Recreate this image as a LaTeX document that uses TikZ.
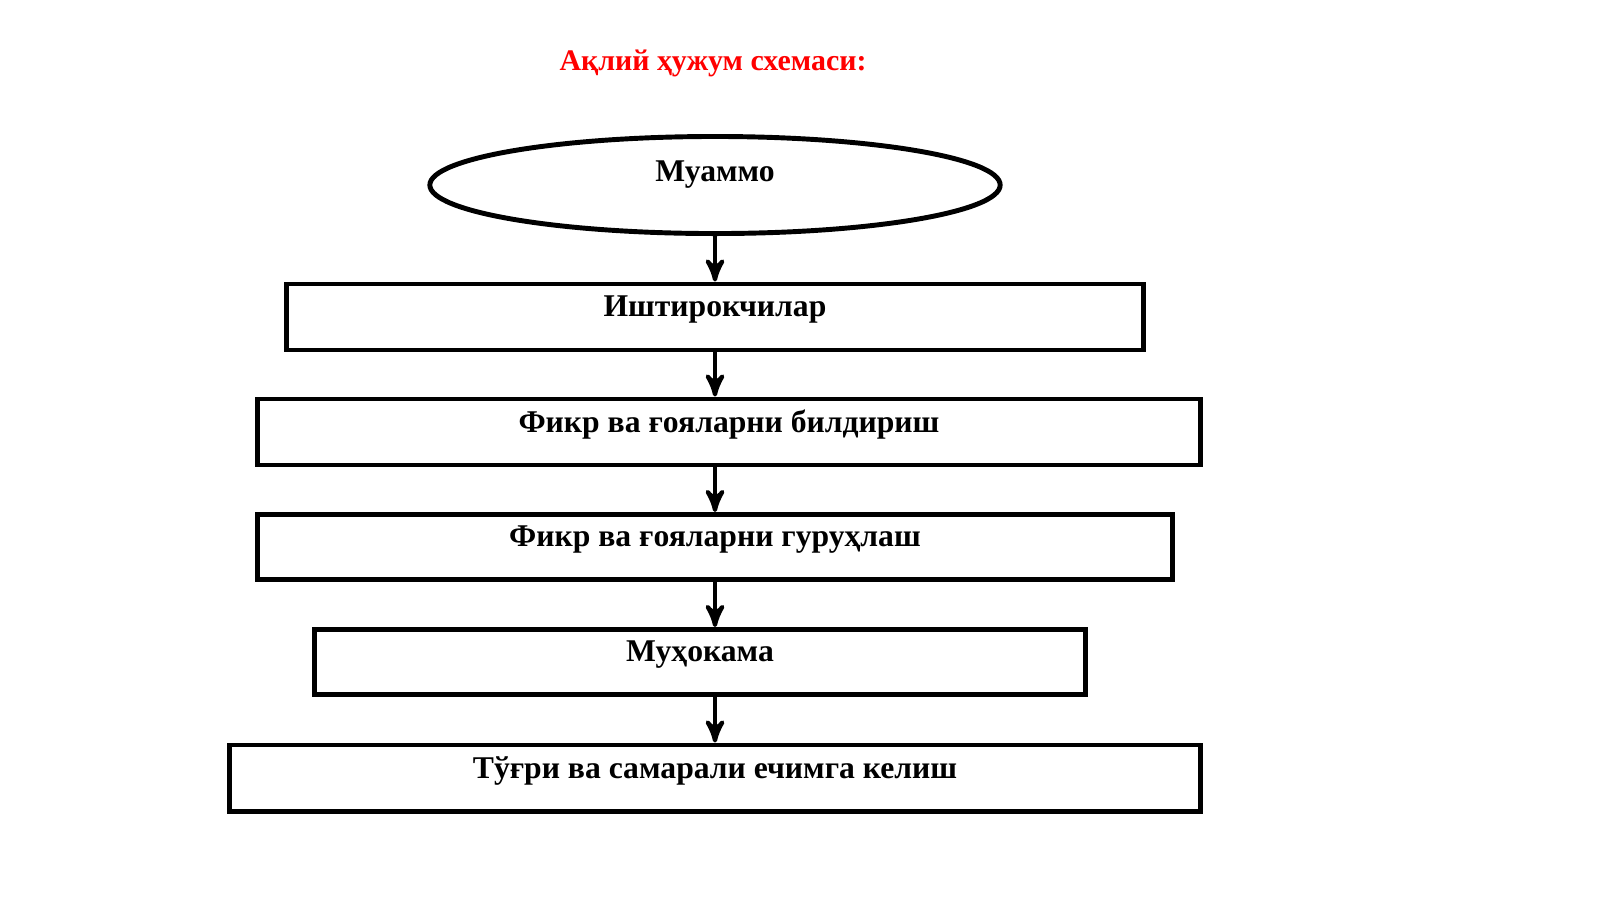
\documentclass[tikz,border=0pt]{standalone}
\usepackage{fontspec}
\setmainfont{Liberation Serif}
\usetikzlibrary{arrows,shapes.geometric}
\tikzset{
  stagebox/.style={draw,line width=1.4pt,inner sep=0pt,font=\bfseries\fontsize{9}{10}\selectfont,text depth=6pt},
}
\begin{document}
\begin{tikzpicture}[x=0.01cm,y=-0.01cm,>=stealth',align=center]
\useasboundingbox (0,0) rectangle (1600,899);
\node[text=red,font=\bfseries\fontsize{8.5}{10}\selectfont] (title) at (713,63) {Ақлий ҳужум схемаси:};
\node[stagebox,ellipse,minimum width=5.7cm,minimum height=0.97cm,text depth=8pt] (prob) at (715,185) {Муаммо};
\node[stagebox,minimum width=8.56cm,minimum height=0.66cm] (part) at (715,317) {Иштирокчилар};
\node[stagebox,minimum width=9.42cm,minimum height=0.66cm] (idea) at (729,432) {Фикр ва ғояларни билдириш};
\node[stagebox,minimum width=9.14cm,minimum height=0.65cm] (group) at (715,547) {Фикр ва ғояларни гуруҳлаш};
\node[stagebox,minimum width=7.71cm,minimum height=0.65cm] (disc) at (700,662) {Муҳокама};
\node[stagebox,minimum width=9.70cm,minimum height=0.66cm] (sol) at (715,778) {Тўғри ва самарали ечимга келиш};
\draw[->,line width=1.2pt] (prob.south) -- (part.north);
\draw[->,line width=1.2pt] (part.south) -- (part.south |- idea.north);
\draw[->,line width=1.2pt] (part.south |- idea.south) -- (group.north);
\draw[->,line width=1.2pt] (group.south) -- (group.south |- disc.north);
\draw[->,line width=1.2pt] (group.south |- disc.south) -- (sol.north);
\end{tikzpicture}
\end{document}
